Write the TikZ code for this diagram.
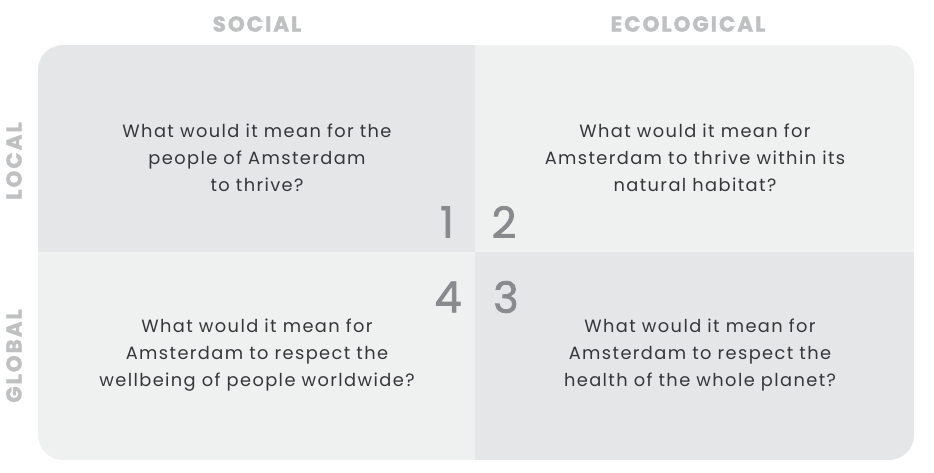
\documentclass[tikz,border=0pt]{standalone}
\usepackage{fontspec}
\setmainfont{Poppins}[LetterSpace=7.8]
\newfontfamily\headfont{Poppins}[LetterSpace=9, FakeBold=1.5]
\newfontfamily\numfont{Poppins}[FakeBold=1.6]
\begin{document}
\begin{tikzpicture}[x=1pt,y=-1pt,
  quest/.style={align=center, text=txtgray, font=\fontsize{17.8}{27}\selectfont, inner sep=0pt},
  head/.style={text=headgray, font=\headfont\fontsize{21.5}{22}\selectfont\bfseries, inner sep=0pt},
  num/.style={text=numgray, font=\numfont\fontsize{43}{43}\selectfont, inner sep=0pt}]
\definecolor{dark}{HTML}{E4E6E7}
\definecolor{light}{HTML}{EFF0F0}
\definecolor{txtgray}{HTML}{35383B}
\definecolor{headgray}{HTML}{BEC0C1}
\definecolor{numgray}{HTML}{888B8E}
\useasboundingbox (0,0) rectangle (934,473);
\begin{scope}
\clip[rounded corners=25pt] (38,45) rectangle (914,460);
\fill[dark] (38,45) rectangle (475,252);
\fill[light] (475,45) rectangle (914,252);
\fill[light] (38,252) rectangle (475,460);
\fill[dark] (475,252) rectangle (914,460);
\end{scope}
\node[head] (social) at (257,24) {SOCIAL};
\node[head] (eco) at (688,24) {ECOLOGICAL};
\node[head, rotate=90] (local) at (14,161) {LOCAL};
\node[head, rotate=90] (global) at (14,356) {GLOBAL};
\node[quest] (q1) at (257,158) {What would it mean for the\\people of Amsterdam\\to thrive?};
\node[quest] (q2) at (695,158) {What would it mean for\\Amsterdam to thrive within its\\natural habitat?};
\node[quest] (q4) at (257,355) {What would it mean for\\Amsterdam to respect the\\wellbeing of people worldwide?};
\node[quest] (q3) at (700,355) {What would it mean for\\Amsterdam to respect the\\health of the whole planet?};
\node[num] (n1) at (447,222) {1};
\node[num] (n2) at (504,222) {2};
\node[num] (n4) at (448,297) {4};
\node[num] (n3) at (506,297) {3};
\end{tikzpicture}
\end{document}
